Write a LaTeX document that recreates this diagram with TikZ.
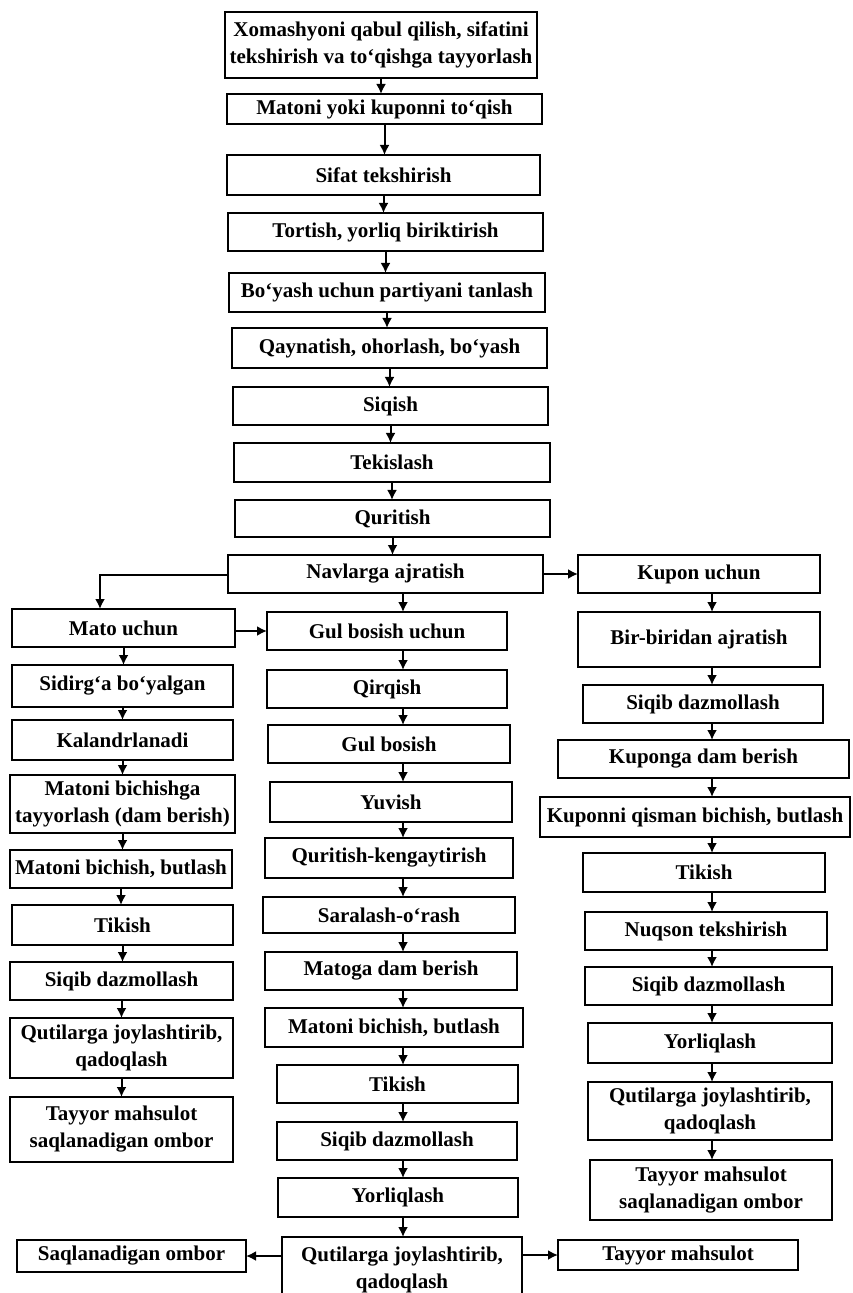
\documentclass[tikz,border=0pt]{standalone}
\usepackage{fontspec}
\setmainfont{Liberation Serif}
\usetikzlibrary{arrows.meta}

\tikzset{
  blok/.style={draw, line width=1pt, inner sep=0pt, outer sep=0pt, align=center,
    font=\bfseries\fontsize{10.5}{13.5}\selectfont},
  strelka/.style={line width=1pt, -{Latex[length=5pt,width=5pt]}}
}
% \quti{name}{x1}{y1}{x2}{y2}{text}, in pixels of the page
\newcommand{\quti}[6]{\node[blok, minimum width={(#4-#2)*0.5pt}, minimum height={(#5-#3)*0.5pt}]
  (#1) at ({(#2+#4)/2},{(#3+#5)/2}) {#6};}

\begin{document}
\begin{tikzpicture}[x=0.5pt, y=-0.5pt]
\useasboundingbox[fill=white] (0,0) rectangle (852,1293);

\quti{t1}{225}{12}{537}{78}{Xomashyoni qabul qilish, sifatini\\tekshirish va to‘qishga tayyorlash}
\quti{t2}{227}{94}{542}{124}{Matoni yoki kuponni to‘qish}
\quti{t3}{227}{155}{540}{195}{Sifat tekshirish}
\quti{t4}{228}{213}{543}{251}{Tortish, yorliq biriktirish}
\quti{t5}{229}{273}{545}{312}{Bo‘yash uchun partiyani tanlash}
\quti{t6}{232}{328}{547}{368}{Qaynatish, ohorlash, bo‘yash}
\quti{t7}{233}{387}{548}{425}{Siqish}
\quti{t8}{234}{443}{550}{482}{Tekislash}
\quti{t9}{235}{500}{550}{537}{Quritish}
\quti{nav}{228}{555}{543}{593}{Navlarga ajratish}

\quti{m1}{12}{609}{235}{647}{Mato uchun}
\quti{m2}{12}{665}{233}{707}{Sidirg‘a bo‘yalgan}
\quti{m3}{12}{720}{233}{760}{Kalandrlanadi}
\quti{m4}{10}{775}{235}{833}{Matoni bichishga\\tayyorlash (dam berish)}
\quti{m5}{10}{850}{232}{888}{Matoni bichish, butlash}
\quti{m6}{12}{905}{233}{945}{Tikish}
\quti{m7}{10}{962}{233}{1000}{Siqib dazmollash}
\quti{m8}{10}{1018}{233}{1078}{Qutilarga joylashtirib,\\qadoqlash}
\quti{m9}{10}{1097}{233}{1162}{Tayyor mahsulot\\saqlanadigan ombor}
\quti{sq}{17}{1240}{246}{1272}{Saqlanadigan ombor}

\quti{g1}{267}{612}{507}{650}{Gul bosish uchun}
\quti{g2}{267}{670}{507}{708}{Qirqish}
\quti{g3}{268}{725}{510}{763}{Gul bosish}
\quti{g4}{270}{782}{512}{822}{Yuvish}
\quti{g5}{265}{838}{513}{878}{Quritish-kengaytirish}
\quti{g6}{263}{897}{515}{933}{Saralash-o‘rash}
\quti{g7}{265}{952}{517}{990}{Matoga dam berish}
\quti{g8}{265}{1008}{523}{1047}{Matoni bichish, butlash}
\quti{g9}{277}{1065}{518}{1103}{Tikish}
\quti{g10}{277}{1122}{517}{1160}{Siqib dazmollash}
\quti{g11}{278}{1178}{518}{1217}{Yorliqlash}
\quti{g12}{282}{1237}{522}{1303}{Qutilarga joylashtirib,\\qadoqlash}

\quti{k1}{578}{555}{820}{593}{Kupon uchun}
\quti{k2}{578}{612}{820}{667}{Bir-biridan ajratish}
\quti{k3}{583}{685}{823}{723}{Siqib dazmollash}
\quti{k4}{558}{740}{849}{778}{Kuponga dam berish}
\quti{k5}{540}{797}{850}{837}{Kuponni qisman bichish, butlash}
\quti{k6}{583}{853}{825}{892}{Tikish}
\quti{k7}{585}{912}{827}{950}{Nuqson tekshirish}
\quti{k8}{585}{967}{832}{1005}{Siqib dazmollash}
\quti{k9}{588}{1023}{832}{1063}{Yorliqlash}
\quti{k10}{588}{1082}{832}{1140}{Qutilarga joylashtirib,\\qadoqlash}
\quti{k11}{590}{1160}{832}{1220}{Tayyor mahsulot\\saqlanadigan ombor}
\quti{tm}{558}{1240}{798}{1270}{Tayyor mahsulot}

\coordinate (xg) at (403,0);
\coordinate (xk) at (712,0);
\coordinate (burilish) at (100,575);

\foreach \a/\b in {t1/t2,t2/t3,t3/t4,t4/t5,t5/t6,t6/t7,t7/t8,t8/t9,t9/nav,
  m1/m2,m2/m3,m3/m4,m4/m5,m5/m6,m6/m7,m7/m8,m8/m9}
  \draw[strelka] (\a.south) -- (\a.south |- \b.north);

\foreach \a/\b in {nav/g1,g1/g2,g2/g3,g3/g4,g4/g5,g5/g6,g6/g7,g7/g8,g8/g9,g9/g10,g10/g11,g11/g12}
  \draw[strelka] (\a.south -| xg) -- (\b.north -| xg);

\foreach \a/\b in {k1/k2,k2/k3,k3/k4,k4/k5,k5/k6,k6/k7,k7/k8,k8/k9,k9/k10,k10/k11}
  \draw[strelka] (\a.south -| xk) -- (\b.north -| xk);

\draw[strelka] (nav.west |- burilish) -- (burilish) -- (burilish |- m1.north);
\draw[strelka] (nav.east) -- (k1.west);
\draw[strelka] (m1.east |- g1.west) -- (g1.west);
\draw[strelka] (g12.west |- sq.east) -- (sq.east);
\draw[strelka] (g12.east |- tm.west) -- (tm.west);
\end{tikzpicture}
\end{document}
